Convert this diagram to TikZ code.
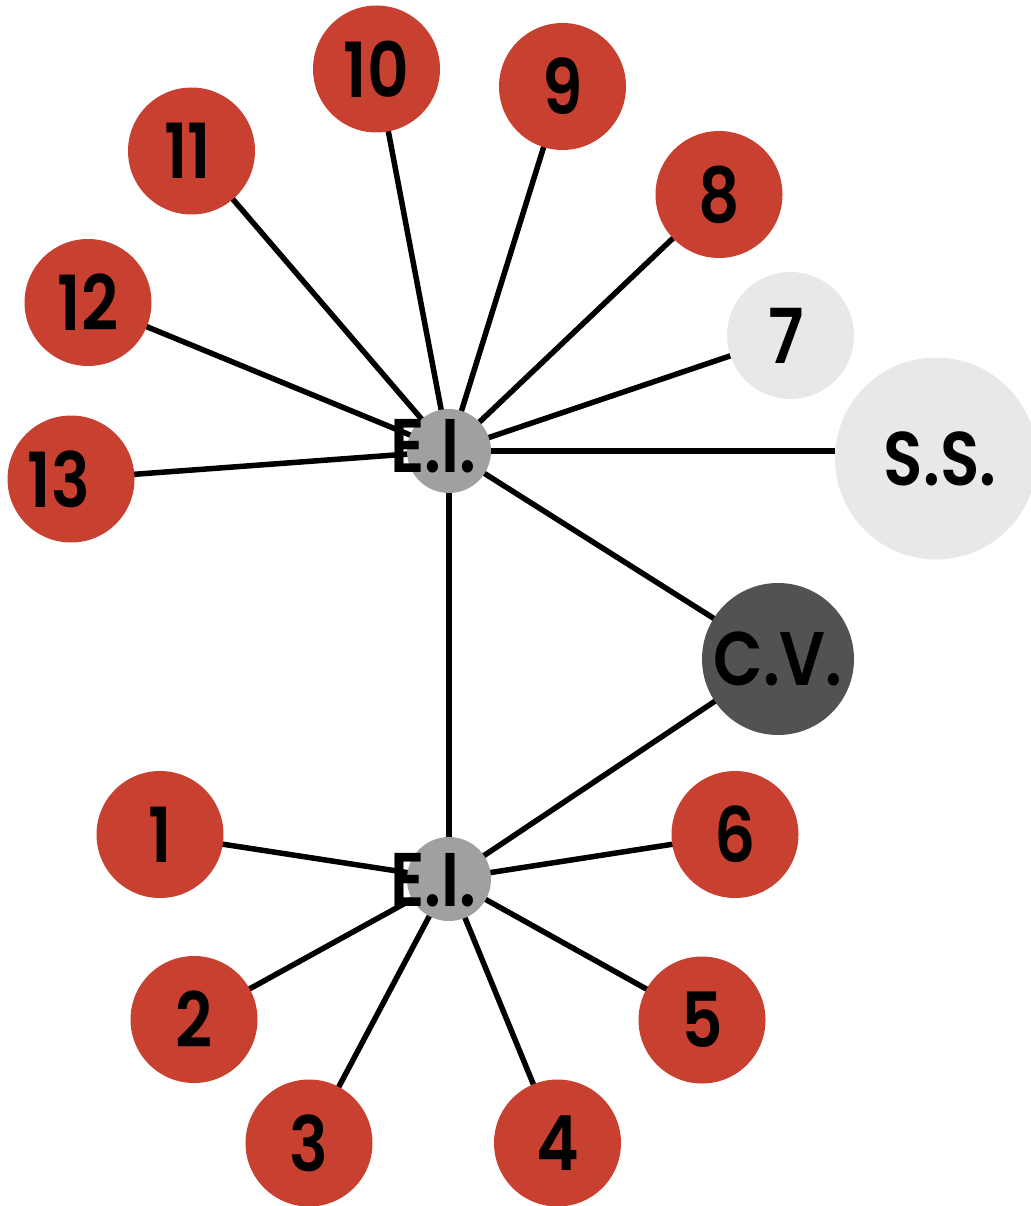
\documentclass[tikz,border=0pt]{standalone}
\usepackage{fontspec}
\newfontfamily\lblfont{Poppins SemiBold}[FakeStretch=0.85]
\usetikzlibrary{backgrounds}
\definecolor{nodered}{HTML}{C84130}
\definecolor{eigray}{HTML}{A0A0A0}
\definecolor{lightgray}{HTML}{E8E8E8}
\definecolor{darkgray}{HTML}{525252}
\begin{document}
\begin{tikzpicture}[x=1pt,y=-1pt,
  lbl/.style={font=\lblfont\fontsize{76}{76}\selectfont, text=black},
  basecircle/.style={circle, inner sep=0pt, lbl},
  rednode/.style={basecircle, fill=nodered, minimum size=127pt},
  lightnode/.style={basecircle, fill=lightgray, minimum size=127pt},
  ssnode/.style={basecircle, fill=lightgray, minimum size=202pt},
  cvnode/.style={basecircle, fill=darkgray, minimum size=152pt},
  einode/.style={circle, inner sep=0pt, fill=eigray, minimum size=84pt},
  edge/.style={draw=black, line width=5.5pt}
]
\useasboundingbox (0,0) rectangle (1030,1206);

\node[einode, label={[lbl, xshift=-16pt, yshift=5pt]center:E.I.}] (eitop) at (449,451) {};
\node[einode, label={[lbl, xshift=-16pt, yshift=-1pt]center:E.I.}] (eibot) at (449,879) {};

\node[rednode] (n1) at (160,834.5) {1};
\node[rednode] (n2) at (194,1019.5) {2};
\node[rednode] (n3) at (309,1143) {3};
\node[rednode] (n4) at (557.5,1143) {4};
\node[rednode] (n5) at (702,1020) {5};
\node[rednode] (n6) at (735,834.5) {6};
\node[lightnode] (n7) at (790.5,335.5) {\hspace*{-8pt}7};
\node[rednode] (n8) at (719,194.5) {8};
\node[rednode] (n9) at (562.5,86.5) {9};
\node[rednode] (n10) at (376.5,69) {10};
\node[rednode] (n11) at (191.5,151) {\hspace*{-8pt}11};
\node[rednode] (n12) at (88,302.5) {12};
\node[rednode] (n13) at (71,479) {\hspace*{-24pt}13};
\node[cvnode] (cv) at (778,659) {C.V.};
\node[ssnode] (ss) at (936,458.5) {\hspace*{8pt}S.S.};

\begin{scope}[on background layer]
  \foreach \t in {n7,n8,n9,n10,n11,n12,n13,cv,eibot}
    \draw[edge] (eitop.center) -- (\t.center);
  \draw[edge] (eitop.center) -- (eitop.center -| ss.west);
  \foreach \t in {n1,n2,n3,n4,n5,n6,cv}
    \draw[edge] (eibot.center) -- (\t.center);
\end{scope}
\end{tikzpicture}
\end{document}
